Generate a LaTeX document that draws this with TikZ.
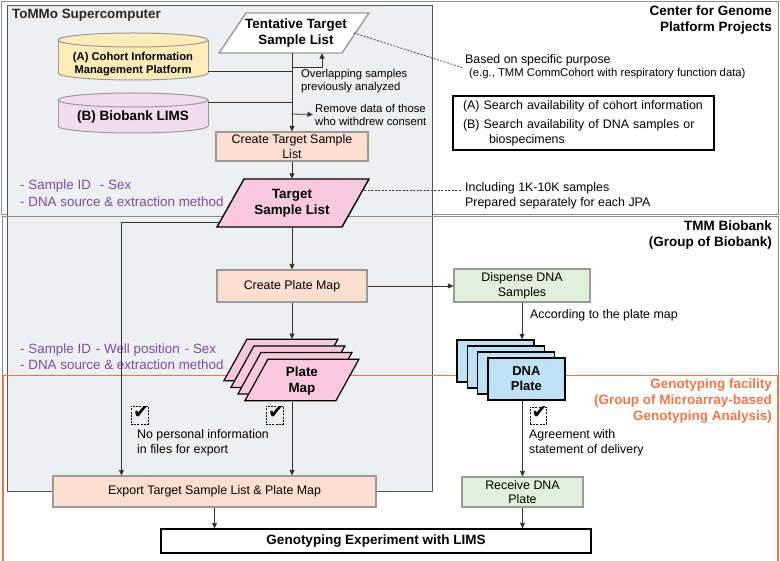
\documentclass[tikz,border=0pt]{standalone}
\usepackage{fontspec}
\setmainfont{Liberation Sans}
\newfontfamily\symfont{DejaVu Sans}
\usetikzlibrary{arrows.meta,calc}
\definecolor{tommofill}{HTML}{EEEFF1}
\definecolor{tommoedge}{HTML}{555555}
\definecolor{regiongray}{HTML}{8C8C8C}
\definecolor{peach}{HTML}{FCDFD0}
\definecolor{greenf}{HTML}{E2EFDA}
\definecolor{pinkf}{HTML}{F8C9DE}
\definecolor{bluef}{HTML}{BEE1F6}
\definecolor{cylAf}{HTML}{FDEBB8}
\definecolor{cylBf}{HTML}{F0DCEE}
\definecolor{orangec}{HTML}{E8784A}
\definecolor{purp}{HTML}{7A4EA0}
\definecolor{linec}{HTML}{333333}
\definecolor{boxedge}{HTML}{9A9A9A}
\newcommand\MyPara[6]{%
  \filldraw[#6] ({#1-#3/2+#5},{#2-#4/2}) -- ({#1+#3/2+#5},{#2-#4/2}) -- ({#1+#3/2-#5},{#2+#4/2}) -- ({#1-#3/2-#5},{#2+#4/2}) -- cycle;}
\tikzset{
  conn/.style={draw=linec, line width=0.8pt},
  arr/.style={conn, -{Triangle[length=5.5pt,width=5pt]}},
  dashl/.style={draw=linec, line width=0.7pt, dash pattern=on 2pt off 1.5pt},
  regt/.style={font=\fontsize{12.4}{14.7}\selectfont, inner sep=0pt},
  smallt/.style={font=\fontsize{11.3}{13}\selectfont, inner sep=0pt},
  boldt/.style={font=\bfseries\fontsize{13.4}{16}\selectfont, inner sep=0pt},
  titlet/.style={font=\bfseries\fontsize{13.5}{16}\selectfont, align=right, anchor=east, inner sep=0pt},
  purpt/.style={font=\fontsize{13.4}{16.5}\selectfont, text=purp, align=left, anchor=west, inner sep=0pt},
  region/.style={draw=regiongray, line width=0.9pt},
  cyledge/.style={draw=boxedge, line width=1pt},
  peachbox/.style={draw=boxedge, line width=1.1pt, fill=peach, regt, align=center},
  greenbox/.style={draw=boxedge, line width=1.1pt, fill=greenf, regt, align=center},
  dnarect/.style={draw=black, line width=1.3pt, fill=bluef, minimum width=77pt, minimum height=42pt, inner sep=0pt},
  chkbox/.style={draw=black, line width=0.7pt, dash pattern=on 2pt off 1.2pt, inner sep=0pt},
  chkmark/.style={font=\symfont\fontsize{19}{19}\selectfont, inner sep=0pt}
}
\begin{document}
\begin{tikzpicture}[x=1pt,y=-1pt]
\useasboundingbox (0,0) rectangle (780,561);
\fill[white] (0,0) rectangle (780,561);
% regions
\draw[region] (1.5,1.5) rectangle (778.5,214.5);
\filldraw[fill=tommofill, draw=tommoedge, line width=1pt] (7,5.5) rectangle (432.5,492);
\draw[region] (2.5,216.5) rectangle (778.5,600);
\draw[draw=orangec, line width=1.8pt] (3,375.5) rectangle (778,600);
% titles
\node[font=\bfseries\fontsize{13.4}{16}\selectfont, anchor=west, inner sep=0pt, text=black!85] (tommo) at (12,15) {ToMMo Supercomputer};
\node[titlet] (cgpp) at (772,20.5) {Center for Genome\\Platform Projects};
\node[titlet] (tmmb) at (772,235) {TMM Biobank\\(Group of Biobank)};
\node[titlet, text=orangec] (genof) at (772,401.5) {Genotyping facility\\(Group of Microarray-based\\Genotyping Analysis)};
% cylinder A
\filldraw[fill=cylAf, cyledge] (133,73) ellipse [x radius=75pt, y radius=7pt];
\fill[cylAf] (58,40) rectangle (208,73);
\draw[cyledge] (58,40) -- (58,73) (208,40) -- (208,73);
\filldraw[fill=cylAf, cyledge] (133,40) ellipse [x radius=75pt, y radius=7pt];
\node[font=\bfseries\fontsize{11.2}{13.2}\selectfont, align=center, inner sep=0pt, minimum width=150pt] (cylA) at (133,64.5) {(A) Cohort Information\\Management Platform};
% cylinder B
\filldraw[fill=cylBf, cyledge] (133,126) ellipse [x radius=75pt, y radius=7pt];
\fill[cylBf] (58,100) rectangle (208,126);
\draw[cyledge] (58,100) -- (58,126) (208,100) -- (208,126);
\filldraw[fill=cylBf, cyledge] (133,100) ellipse [x radius=75pt, y radius=7pt];
\node[font=\bfseries\fontsize{13.5}{16}\selectfont, inner sep=0pt, minimum width=150pt] (cylB) at (133,117.5) {(B) Biobank LIMS};
% tentative list
\MyPara{294}{33}{123}{40}{13.5}{fill=white, draw=boxedge, line width=1.4pt}
\node[boldt, align=center, minimum width=115pt, minimum height=40pt] (tent) at (296,33) {Tentative Target\\Sample List};
% create target sample list
\node[peachbox, minimum width=152pt, minimum height=29pt] (cts) at (292,146.5) {Create Target Sample\\List};
% target sample list
\MyPara{293}{203}{125}{48}{13.5}{fill=pinkf, draw=black, line width=1.4pt}
\node[boldt, align=center, minimum width=125pt, minimum height=48pt] (tsl) at (292,203) {Target\\Sample List};
% create plate map
\node[peachbox, minimum width=150pt, minimum height=32pt] (cpm) at (292,286) {Create Plate Map};
% dispense
\node[greenbox, minimum width=136pt, minimum height=33pt] (disp) at (522,285.5) {Dispense DNA\\Samples};
% plate map stack
\MyPara{280.9}{360}{91}{41.5}{11.5}{fill=pinkf, draw=black, line width=1.2pt}
\MyPara{287.9}{366.7}{91}{41.5}{11.5}{fill=pinkf, draw=black, line width=1.2pt}
\MyPara{294.9}{373.3}{91}{41.5}{11.5}{fill=pinkf, draw=black, line width=1.2pt}
\MyPara{301.9}{380}{91}{41.5}{11.5}{fill=pinkf, draw=black, line width=1.2pt}
\node[inner sep=0pt, minimum width=91pt, minimum height=41.5pt] (pmA) at (280.9,360) {};
\node[boldt, align=center, minimum width=91pt, minimum height=41.5pt] (pmD) at (301.9,381) {Plate\\Map};
% DNA plate stack
\node[dnarect] (dnaA) at (495.5,361) {};
\node[dnarect] (dnaB) at (505.8,367) {};
\node[dnarect] (dnaC) at (516.1,373) {};
\node[dnarect, font=\bfseries\fontsize{13}{15}\selectfont, align=center] (dnaD) at (526.4,379) {DNA\\Plate};
% export, receive, experiment
\node[peachbox, minimum width=323pt, minimum height=31pt] (export) at (214.5,491.5) {Export Target Sample List \& Plate Map};
\node[greenbox, minimum width=121pt, minimum height=30pt] (recv) at (522.5,492) {Receive DNA\\Plate};
\node[draw=black, line width=1.2pt, fill=white, minimum width=430pt, minimum height=24pt, inner sep=0pt, font=\bfseries\fontsize{13.5}{16}\selectfont] (gexp) at (376,541) {Genotyping Experiment with LIMS};
% side texts
\node[smallt, anchor=west, align=left] (overl) at (301,81.5) {Overlapping samples\\previously analyzed};
\node[smallt, anchor=west, align=left] (remove) at (315,114.5) {Remove data of those\\who withdrew consent};
\node[regt, anchor=west] (basedA) at (465,60) {Based on specific purpose};
\node[smallt, anchor=west] (basedB) at (469,74) {(e.g., TMM CommCohort with respiratory function data)};
\node[draw=black, line width=1.1pt, fill=white, font=\fontsize{12.4}{15}\selectfont, align=left, text width=241pt, inner xsep=10pt, inner ysep=0pt, minimum height=54pt] (search) at (583.5,123) {(A) Search availability of cohort information\\[4pt](B) Search availability of DNA samples or\\\hspace*{26pt}biospecimens};
\node[regt, anchor=west, align=left] (incl) at (465,195.5) {Including 1K-10K samples\\Prepared separately for each JPA};
\node[regt, anchor=west] (accord) at (530,315) {According to the plate map};
\node[regt, anchor=west, align=left] (nopers) at (137,443) {No personal information\\in files for export};
\node[regt, anchor=west, align=left] (agree) at (529,443) {Agreement with\\statement of delivery};
\node[purpt] (purp1) at (20,193) {- Sample ID\hspace{9pt}- Sex\\- DNA source \& extraction method};
\node[purpt] (purp2) at (20,356.5) {- Sample ID\hspace{5pt}- Well position\hspace{5pt}- Sex\\- DNA source \& extraction method};
% checkboxes
\node[chkbox, minimum width=17pt, minimum height=18pt] (chk1) at (139.5,415) {};
\node[chkbox, minimum width=17pt, minimum height=18pt] (chk2) at (274.5,415) {};
\node[chkbox, minimum width=16pt, minimum height=17pt] (chk3) at (538,415.5) {};
\node[chkmark] (chk1m) at ([xshift=1.5pt,yshift=2.5pt]chk1.center) {✔};
\node[chkmark] (chk2m) at ([xshift=1.5pt,yshift=2.5pt]chk2.center) {✔};
\node[chkmark] (chk3m) at ([xshift=1.5pt,yshift=2.5pt]chk3.center) {✔};
% coordinates
\coordinate (jA) at (292,71);
\coordinate (jB) at (292,102);
\coordinate (jUp) at (292,67);
\coordinate (jR) at (292,114);
\coordinate (tslL) at (219,222);
\coordinate (tslR) at (364,190);
\coordinate (inclEnd) at (462,190);
\coordinate (basedEnd) at (462,67.5);
% connectors
\draw[conn] ([yshift=-6.5pt]cylA.east) -- (jA);
\draw[conn] ([yshift=15.5pt]cylB.east) -- (jB);
\draw[arr] (cts.north |- tent.south) -- (cts.north);
\draw[arr] (jUp) -| ([xshift=26pt]tent.south);
\draw[arr] (jR) -- ([xshift=-2pt]remove.west);
\draw[arr] (cts.south) -- (tsl.north);
\draw[arr] (tsl.south) -- (cpm.north);
\draw[arr] (cpm.east) -- (cpm.east -| disp.west);
\draw[arr] (disp.south) -- (disp.south |- dnaA.north);
\draw[arr] (cpm.south) -- (cpm.south |- pmA.north);
\draw[arr] (cpm.south |- pmD.south) -- (cpm.south |- export.north);
\draw[arr] (tslL) -| ([xshift=69pt]export.north west);
\draw[arr] (recv.north |- dnaD.south) -- (recv.north);
\draw[arr] (recv.south) -- (recv.south |- gexp.north);
\draw[arr] (export.south) -- (export.south |- gexp.north);
\draw[dashl] (tent.east) -- (basedEnd);
\draw[dashl] (tslR) -- (inclEnd);
\end{tikzpicture}
\end{document}
